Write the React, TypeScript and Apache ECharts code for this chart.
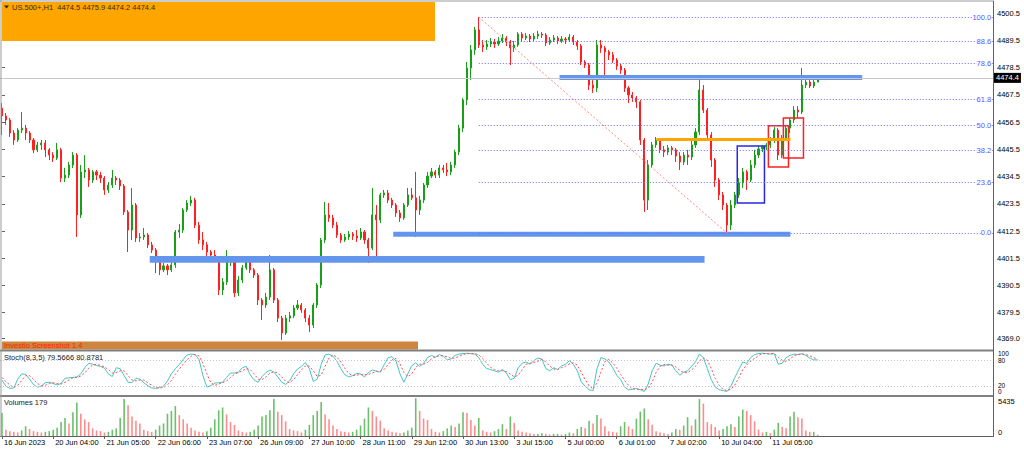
import React, { useEffect, useRef } from "react";
import * as echarts from "echarts";

const FONT = "Liberation Sans";
const FS = 7.5;

const timeLabels = ["16 Jun 2023", "20 Jun 04:00", "21 Jun 05:00", "22 Jun 06:00", "23 Jun 07:00", "26 Jun 09:00", "27 Jun 10:00", "28 Jun 11:00", "29 Jun 12:00", "30 Jun 13:00", "3 Jul 15:00", "5 Jul 00:00", "6 Jul 01:00", "7 Jul 02:00", "10 Jul 04:00", "11 Jul 05:00"];
const LABEL_STEP = 13;
const SLOT_COUNT = 252;

const priceTicks = [4500.5, 4489.5, 4478.5, 4467.5, 4456.5, 4445.5, 4434.5, 4423.5, 4412.5, 4401.5, 4390.5, 4379.5, 4369.0];
const PRICE_MIN = 4364.81;
const PRICE_MAX = 4505.07;

const opens = [
  4462.2, 4459.0, 4457.4, 4452.1, 4449.3, 4453.3, 4454.1, 4452.1, 4449.3, 4445.3,
  4447.3, 4448.1, 4445.3, 4443.2, 4442.0, 4445.3, 4433.9, 4435.1, 4439.2, 4443.2,
  4419.0, 4436.4, 4437.2, 4433.1, 4436.4, 4435.1, 4433.9, 4429.1, 4431.1, 4433.9,
  4433.1, 4430.7, 4420.2, 4412.9, 4423.0, 4409.7, 4410.1, 4410.9, 4406.9, 4404.8,
  4400.0, 4396.8, 4398.4, 4396.8, 4398.8, 4412.1, 4412.9, 4421.0, 4423.8, 4425.0,
  4414.9, 4408.9, 4406.9, 4404.0, 4402.8, 4401.6, 4388.7, 4391.9, 4400.0, 4400.8,
  4387.5, 4392.7, 4397.6, 4400.0, 4396.8, 4394.7, 4384.6, 4382.6, 4385.8, 4396.8,
  4384.6, 4377.3, 4371.3, 4377.3, 4378.2, 4381.4, 4382.6, 4380.6, 4377.3, 4374.5,
  4382.6, 4390.7, 4408.9, 4419.0, 4417.8, 4414.9, 4410.9, 4408.9, 4410.1, 4411.3,
  4410.5, 4409.7, 4412.1, 4408.9, 4405.6, 4419.0, 4417.0, 4427.1, 4427.9, 4425.0,
  4423.0, 4419.8, 4417.8, 4423.0, 4427.1, 4425.9, 4421.0, 4425.0, 4431.1, 4434.7,
  4436.4, 4435.1, 4438.0, 4437.2, 4436.4, 4439.2, 4444.4, 4454.1, 4465.5, 4478.4,
  4485.7, 4493.8, 4487.7, 4486.9, 4488.1, 4488.9, 4488.1, 4489.3, 4490.5, 4488.9,
  4486.5, 4487.7, 4492.1, 4490.5, 4491.3, 4490.1, 4491.3, 4492.1, 4491.7, 4488.5,
  4489.7, 4490.5, 4489.3, 4490.1, 4489.7, 4490.9, 4488.9, 4487.3, 4480.8, 4479.6,
  4471.5, 4470.3, 4487.7, 4486.5, 4484.9, 4483.7, 4481.6, 4479.2, 4477.6, 4470.3,
  4467.5, 4466.3, 4464.7, 4449.3, 4425.0, 4439.2, 4447.3, 4449.3, 4445.3, 4444.4,
  4446.1, 4445.3, 4442.8, 4440.4, 4443.2, 4442.4, 4447.3, 4452.5, 4469.5, 4461.4,
  4451.3, 4441.2, 4433.1, 4427.1, 4423.0, 4414.9, 4423.0, 4427.1, 4431.9, 4436.4,
  4433.1, 4439.2, 4443.2, 4445.7, 4446.5, 4447.3, 4449.3, 4453.3, 4443.2, 4450.1,
  4454.1, 4457.4, 4461.4, 4460.6, 4471.5, 4472.7, 4471.1, 4472.7,
];
const closes = [
  4459.0, 4457.4, 4452.1, 4449.3, 4453.3, 4454.1, 4452.1, 4449.3, 4445.3, 4447.3,
  4448.1, 4445.3, 4443.2, 4442.0, 4445.3, 4433.9, 4435.1, 4439.2, 4443.2, 4419.0,
  4436.4, 4437.2, 4433.1, 4436.4, 4435.1, 4433.9, 4429.1, 4431.1, 4433.9, 4433.1,
  4430.7, 4420.2, 4412.9, 4423.0, 4409.7, 4410.1, 4410.9, 4406.9, 4404.8, 4400.0,
  4396.8, 4398.4, 4396.8, 4398.8, 4412.1, 4412.9, 4421.0, 4423.8, 4425.0, 4414.9,
  4408.9, 4406.9, 4404.0, 4402.8, 4401.6, 4388.7, 4391.9, 4400.0, 4400.8, 4387.5,
  4392.7, 4397.6, 4400.0, 4396.8, 4394.7, 4384.6, 4382.6, 4385.8, 4396.8, 4384.6,
  4377.3, 4371.3, 4377.3, 4378.2, 4381.4, 4382.6, 4380.6, 4377.3, 4374.5, 4382.6,
  4390.7, 4408.9, 4419.0, 4417.8, 4414.9, 4410.9, 4408.9, 4410.1, 4411.3, 4410.5,
  4409.7, 4412.1, 4408.9, 4405.6, 4419.0, 4417.0, 4427.1, 4427.9, 4425.0, 4423.0,
  4419.8, 4417.8, 4423.0, 4427.1, 4425.9, 4421.0, 4425.0, 4431.1, 4434.7, 4436.4,
  4435.1, 4438.0, 4437.2, 4436.4, 4439.2, 4444.4, 4454.1, 4465.5, 4478.4, 4485.7,
  4493.8, 4487.7, 4486.9, 4488.1, 4488.9, 4488.1, 4489.3, 4490.5, 4488.9, 4486.5,
  4487.7, 4492.1, 4490.5, 4491.3, 4490.1, 4491.3, 4492.1, 4491.7, 4488.5, 4489.7,
  4490.5, 4489.3, 4490.1, 4489.7, 4490.9, 4488.9, 4487.3, 4480.8, 4479.6, 4471.5,
  4470.3, 4487.7, 4486.5, 4484.9, 4483.7, 4481.6, 4479.2, 4477.6, 4470.3, 4467.5,
  4466.3, 4464.7, 4449.3, 4425.0, 4439.2, 4447.3, 4449.3, 4445.3, 4444.4, 4446.1,
  4445.3, 4442.8, 4440.4, 4443.2, 4442.4, 4447.3, 4452.5, 4469.5, 4461.4, 4451.3,
  4441.2, 4433.1, 4427.1, 4423.0, 4414.9, 4423.0, 4427.1, 4431.9, 4436.4, 4433.1,
  4439.2, 4443.2, 4445.7, 4446.5, 4447.3, 4449.3, 4453.3, 4443.2, 4450.1, 4454.1,
  4457.4, 4461.4, 4460.6, 4471.5, 4472.7, 4471.1, 4472.7, 4474.4,
];
const lows = [
  4451.3, 4455.4, 4450.5, 4447.3, 4448.5, 4452.1, 4449.3, 4448.1, 4444.0, 4444.4,
  4445.3, 4442.4, 4441.2, 4440.4, 4441.2, 4432.3, 4432.3, 4433.9, 4438.0, 4410.1,
  4417.8, 4433.9, 4430.3, 4431.9, 4433.1, 4431.9, 4427.1, 4427.9, 4429.9, 4431.1,
  4429.1, 4419.0, 4404.0, 4408.9, 4408.1, 4408.1, 4408.9, 4405.6, 4403.6, 4395.5,
  4394.7, 4395.9, 4394.7, 4395.9, 4397.6, 4409.7, 4411.7, 4420.2, 4422.6, 4413.7,
  4407.3, 4404.8, 4402.4, 4400.8, 4400.0, 4386.6, 4386.6, 4390.7, 4398.4, 4385.8,
  4386.2, 4391.5, 4396.8, 4395.5, 4393.5, 4382.6, 4376.5, 4381.4, 4384.6, 4383.4,
  4375.7, 4368.5, 4370.5, 4375.7, 4377.3, 4380.6, 4379.4, 4375.7, 4371.7, 4373.3,
  4381.4, 4389.5, 4407.7, 4416.2, 4413.7, 4409.7, 4407.7, 4408.1, 4408.9, 4408.9,
  4408.1, 4408.9, 4407.3, 4399.6, 4404.8, 4401.6, 4415.7, 4425.9, 4423.8, 4421.8,
  4418.2, 4416.2, 4417.0, 4422.2, 4425.0, 4410.1, 4419.0, 4423.8, 4429.9, 4433.9,
  4433.9, 4433.9, 4436.0, 4434.7, 4435.1, 4438.0, 4443.2, 4452.5, 4463.4, 4473.5,
  4483.7, 4486.5, 4484.9, 4485.7, 4486.9, 4486.5, 4487.3, 4488.5, 4487.3, 4479.6,
  4484.9, 4486.9, 4488.9, 4489.7, 4488.9, 4489.3, 4490.1, 4490.5, 4487.3, 4487.7,
  4488.9, 4488.1, 4488.5, 4488.1, 4488.9, 4487.7, 4485.7, 4479.6, 4478.4, 4469.5,
  4468.3, 4468.7, 4484.5, 4474.8, 4481.6, 4480.4, 4477.6, 4476.0, 4468.7, 4464.2,
  4464.7, 4462.2, 4447.3, 4420.2, 4421.0, 4438.0, 4446.1, 4444.0, 4442.4, 4443.2,
  4443.2, 4440.4, 4437.2, 4439.2, 4439.2, 4441.2, 4446.1, 4451.3, 4460.2, 4449.3,
  4438.4, 4430.3, 4425.0, 4421.0, 4411.7, 4412.9, 4421.8, 4425.9, 4429.9, 4429.1,
  4432.3, 4438.0, 4442.0, 4444.4, 4445.3, 4446.1, 4448.1, 4441.2, 4442.0, 4449.3,
  4452.1, 4456.2, 4458.2, 4459.8, 4470.3, 4470.3, 4470.3, 4472.7,
];
const highs = [
  4464.2, 4460.2, 4458.2, 4453.3, 4454.1, 4460.6, 4455.4, 4452.9, 4450.1, 4448.5,
  4449.3, 4449.3, 4446.1, 4444.4, 4448.1, 4446.1, 4438.0, 4440.4, 4444.4, 4444.0,
  4439.2, 4443.2, 4438.0, 4437.2, 4437.2, 4436.4, 4434.7, 4432.3, 4437.2, 4434.7,
  4433.9, 4431.5, 4421.0, 4429.9, 4423.8, 4411.7, 4413.7, 4411.7, 4408.1, 4405.6,
  4400.8, 4399.6, 4399.2, 4400.0, 4412.9, 4415.3, 4421.8, 4425.0, 4426.7, 4425.9,
  4416.2, 4412.1, 4408.1, 4404.8, 4404.8, 4402.4, 4393.5, 4404.8, 4402.4, 4401.6,
  4394.3, 4398.8, 4401.6, 4400.8, 4397.6, 4395.5, 4385.4, 4387.5, 4402.8, 4397.6,
  4385.4, 4378.2, 4378.6, 4379.8, 4382.6, 4384.6, 4383.4, 4381.4, 4378.6, 4383.4,
  4391.5, 4409.7, 4424.2, 4423.8, 4419.0, 4416.2, 4411.7, 4411.3, 4412.5, 4412.1,
  4412.9, 4413.7, 4412.9, 4409.7, 4429.9, 4423.0, 4427.9, 4429.1, 4429.1, 4425.9,
  4423.8, 4421.0, 4423.8, 4429.9, 4429.9, 4436.4, 4426.7, 4431.9, 4436.4, 4438.0,
  4437.2, 4439.2, 4439.2, 4440.0, 4440.4, 4445.3, 4455.4, 4466.3, 4480.8, 4487.7,
  4495.0, 4499.0, 4489.7, 4489.7, 4490.5, 4490.1, 4490.9, 4492.1, 4491.3, 4489.7,
  4489.3, 4492.9, 4492.9, 4492.5, 4492.1, 4492.5, 4493.4, 4492.9, 4492.5, 4490.9,
  4491.7, 4491.3, 4491.3, 4490.9, 4492.1, 4491.7, 4489.7, 4488.1, 4481.6, 4480.4,
  4473.5, 4489.7, 4489.7, 4487.3, 4485.7, 4484.9, 4482.4, 4480.0, 4478.4, 4471.1,
  4468.7, 4467.1, 4465.5, 4450.1, 4441.2, 4448.5, 4450.5, 4450.1, 4446.9, 4447.3,
  4446.9, 4446.1, 4444.4, 4444.4, 4445.3, 4449.3, 4454.1, 4475.6, 4471.5, 4462.2,
  4452.5, 4442.0, 4433.9, 4428.3, 4423.8, 4425.0, 4428.3, 4433.9, 4438.0, 4437.2,
  4441.2, 4445.3, 4446.9, 4447.3, 4448.1, 4450.5, 4454.5, 4454.1, 4451.3, 4455.4,
  4458.2, 4463.0, 4463.0, 4478.4, 4475.2, 4473.5, 4474.4, 4475.2,
];

const stochK = [
  34, 20, 15, 16, 36, 48, 47, 36, 24, 18,
  20, 28, 29, 26, 23, 26, 38, 39, 40, 41,
  48, 62, 72, 70, 67, 65, 61, 48, 42, 62,
  60, 44, 29, 28, 38, 36, 28, 21, 16, 15,
  17, 20, 32, 48, 60, 69, 81, 91, 93, 92,
  81, 44, 18, 21, 27, 28, 29, 40, 50, 50,
  52, 62, 65, 46, 34, 29, 42, 51, 57, 52,
  41, 29, 24, 32, 48, 59, 65, 74, 60, 31,
  36, 69, 91, 93, 88, 77, 60, 46, 41, 44,
  49, 48, 41, 51, 57, 54, 52, 69, 85, 87,
  77, 48, 29, 48, 67, 73, 65, 72, 85, 90,
  86, 92, 88, 80, 82, 90, 93, 94, 95, 94,
  93, 85, 70, 60, 58, 55, 52, 58, 50, 35,
  38, 62, 72, 75, 70, 78, 84, 82, 60, 55,
  62, 58, 66, 70, 78, 70, 55, 30, 20, 12,
  10, 60, 85, 82, 75, 62, 45, 35, 18, 12,
  13, 15, 12, 8, 25, 55, 72, 68, 66, 70,
  68, 55, 45, 52, 55, 65, 75, 93, 85, 60,
  35, 18, 12, 10, 8, 20, 40, 58, 75, 72,
  85, 92, 94, 95, 94, 93, 94, 70, 72, 85,
  90, 93, 92, 94, 90, 84, 80, 79.57,
];
const stochD = [
  40, 30, 23, 17, 22, 33, 44, 44, 36, 26,
  21, 22, 26, 28, 26, 25, 29, 34, 39, 40,
  43, 50, 61, 68, 70, 67, 64, 58, 50, 51,
  55, 55, 44, 34, 32, 34, 34, 28, 22, 17,
  16, 17, 23, 33, 47, 59, 70, 80, 88, 92,
  89, 72, 48, 28, 22, 25, 28, 32, 40, 47,
  51, 55, 60, 58, 48, 36, 35, 41, 50, 53,
  50, 41, 31, 28, 35, 46, 57, 66, 66, 55,
  42, 45, 65, 84, 91, 86, 75, 61, 49, 44,
  45, 47, 46, 47, 50, 54, 54, 58, 69, 80,
  83, 71, 51, 42, 48, 63, 70, 70, 74, 82,
  87, 89, 89, 87, 83, 84, 88, 92, 94, 94,
  94, 91, 83, 72, 63, 58, 55, 55, 53, 48,
  41, 45, 57, 70, 72, 74, 77, 81, 75, 66,
  59, 58, 62, 65, 71, 73, 68, 52, 35, 21,
  14, 27, 52, 76, 81, 73, 61, 47, 33, 22,
  14, 13, 13, 12, 15, 29, 51, 65, 69, 68,
  68, 64, 56, 51, 51, 57, 65, 78, 84, 79,
  60, 38, 22, 13, 10, 13, 23, 39, 58, 68,
  77, 83, 90, 94, 94, 94, 94, 86, 79, 76,
  82, 89, 92, 93, 92, 89, 85, 80.88,
];

const volumes = [
  3300, 900, 700, 600, 500, 800, 1400, 1000, 700, 600,
  500, 600, 700, 900, 1200, 2000, 2600, 1800, 3400, 4800,
  3200, 2400, 2000, 1100, 800, 700, 500, 600, 900, 1100,
  2600, 5300, 4400, 2800, 2200, 1800, 900, 700, 600, 900,
  1500, 1800, 3200, 3600, 4300, 3000, 2400, 1800, 1200, 800,
  600, 500, 700, 1200, 2400, 3700, 4100, 3100, 2000, 1600,
  800, 600, 500, 600, 900, 1500, 2800, 3000, 3700, 5300,
  3500, 3000, 2100, 1000, 800, 700, 500, 900, 1600, 3000,
  3600, 4900, 3100, 2400, 1500, 1000, 700, 600, 500, 600,
  900, 1500, 2500, 4100, 3600, 2800, 2200, 1100, 800, 600,
  500, 400, 500, 800, 1200, 5435, 3600, 2500, 2300, 1000,
  600, 500, 700, 1100, 1500, 1300, 1800, 3400, 3300, 2300,
  1500, 2600, 800, 600, 500, 700, 1000, 1700, 1000, 2800,
  1900, 800, 600, 500, 400, 300, 300, 400, 300, 200,
  300, 300, 200, 300, 500, 400, 1000, 1300, 1100, 2200,
  1800, 3000, 2500, 1400, 700, 600, 500, 1400, 2000, 1400,
  1000, 2500, 3500, 3950, 2400, 1600, 700, 500, 400, 300,
  500, 1000, 900, 1500, 2700, 1500, 2400, 5300, 4650, 2000,
  1700, 1300, 800, 1000, 1400, 1700, 1300, 2800, 3800, 3600,
  3000, 2100, 900, 500, 600, 400, 900, 1900, 1300, 1100,
  2800, 3480, 2700, 2500, 800, 600, 600, 179,
];

// Fibonacci tool anchored at the swing high / swing low (slot index, price)
const fibRatios = [0, 23.6, 38.2, 50.0, 61.8, 78.6, 88.6, 100.0];
const fibHigh = { slot: 121, price: 4499.0 };
const fibLow = { slot: 184, price: 4411.7 };

// Drawn objects: [slotStart, priceTop, slotEnd, priceBottom]
const bands = [
  [141.5, 4475.6, 218.3, 4473.5],
  [99.3, 4412.2, 200.1, 4410.2],
  [37.5, 4402.4, 178.3, 4399.7],
];
const blueBoxes = [[186.6, 4446.9, 193.5, 4423.8]];
const redBoxes = [
  [194.5, 4455.0, 199.6, 4438.4],
  [198.3, 4458.2, 203.4, 4442.0],
];
const orangeLine = [166.1, 200.1, 4449.7];
const lastPrice = 4474.4;
const headerText = "US.500+,H1  4474.5 4475.9 4474.2 4474.4";
const stochText = "Stoch(8,3,5) 79.5666 80.8781";
const volumeText = "Volumes 179";
const volumeMaxLabel = "5435";

function buildOption() {
  const categories = Array.from({ length: SLOT_COUNT }, (_, i) => String(i));
  const labelAt = (i: number) =>
    i % LABEL_STEP === 0 && i / LABEL_STEP < timeLabels.length ? timeLabels[i / LABEL_STEP] : "";
  const showLabel = (i: number) => labelAt(i) !== "";

  const candleData = opens.map((o, i) => [o, closes[i], lows[i], highs[i]]);
  const volData = volumes.map((v, i) => ({
    value: v,
    itemStyle: { color: i > 0 && v < volumes[i - 1] ? "#ff8c8c" : "#6cc06c" },
  }));

  const fibLevels = fibRatios.map((r) => ({
    r,
    p: fibLow.price + (r / 100) * (fibHigh.price - fibLow.price),
  }));
  const RIGHT = SLOT_COUNT - 0.5;

  const fibStyle = { color: "#6a6aff", width: 1, type: [1, 2] as any };

  const markAreaData: any[] = [];
  bands.forEach((b) =>
    markAreaData.push([
      { coord: [b[0], b[1]], itemStyle: { color: "#6495ed", borderWidth: 0 } },
      { coord: [b[2], b[3]] },
    ])
  );
  blueBoxes.forEach((b) =>
    markAreaData.push([
      { coord: [b[0], b[1]], itemStyle: { color: "rgba(0,0,0,0)", borderColor: "#2626e6", borderWidth: 1.5 } },
      { coord: [b[2], b[3]] },
    ])
  );
  redBoxes.forEach((b) =>
    markAreaData.push([
      { coord: [b[0], b[1]], itemStyle: { color: "rgba(0,0,0,0)", borderColor: "#ff2020", borderWidth: 1.5 } },
      { coord: [b[2], b[3]] },
    ])
  );

  const markLineData: any[] = [
    {
      yAxis: lastPrice,
      lineStyle: { color: "#c8c8c8", width: 1, type: "solid" },
      label: {
        show: true,
        position: "end",
        distance: 1,
        formatter: lastPrice.toFixed(1),
        backgroundColor: "#000",
        color: "#fff",
        padding: [1, 2, 1, 2],
        fontSize: FS,
        fontFamily: FONT,
      },
    },
    ...fibLevels.map((f) => [
      { coord: [fibHigh.slot, f.p], lineStyle: fibStyle },
      { coord: [RIGHT, f.p] },
    ]),
    [
      { coord: [fibHigh.slot, fibHigh.price], lineStyle: { color: "#ff8a8a", width: 1, type: [2, 2] } },
      { coord: [fibLow.slot, fibLow.price] },
    ],
    [
      { coord: [orangeLine[0], orangeLine[2]], lineStyle: { color: "#ffa500", width: 3, type: "solid" } },
      { coord: [orangeLine[1], orangeLine[2]] },
    ],
  ];

  const markPointData = fibLevels.map((f) => ({
    coord: [RIGHT - 0.2, f.p],
    symbol: "circle",
    symbolSize: 0,
    label: {
      show: true,
      position: "left",
      distance: 1,
      formatter: f.r.toFixed(1),
      color: "#5555ff",
      fontSize: FS,
      fontFamily: FONT,
      backgroundColor: "#ffffff",
    },
  }));

  const hiddenCat = (gridIndex: number) => ({
    type: "category",
    gridIndex,
    data: categories,
    boundaryGap: true,
    axisLine: { show: false },
    axisTick: { show: false },
    axisLabel: { show: false },
    splitLine: { show: false },
  });

  const gridL = -1;
  const gridW = 994;
  const SFS = 6.5;

  const graphics: any[] = [
    { type: "rect", shape: { x: 2, y: 2, width: 433, height: 39 }, style: { fill: "#ffa500" }, z: 10 },
    { type: "polygon", shape: { points: [[4, 5.5], [9, 5.5], [6.5, 8.5]] }, style: { fill: "#222" }, z: 11 },
    { type: "text", x: 12, y: 7, style: { text: headerText, fill: "#3b2b00", fontSize: FS, fontFamily: FONT, verticalAlign: "middle" }, z: 11 },
    { type: "rect", shape: { x: 2, y: 341.5, width: 416, height: 8 }, style: { fill: "#cd853f" }, z: 10 },
    { type: "text", x: 4, y: 345.5, style: { text: "Investio Screenshot 1.4", fill: "#ff2200", fontSize: FS, fontFamily: FONT, verticalAlign: "middle" }, z: 11 },
    { type: "text", x: 4, y: 357, style: { text: stochText, fill: "#222", fontSize: FS, fontFamily: FONT, verticalAlign: "middle" }, z: 11 },
    { type: "text", x: 4, y: 402, style: { text: volumeText, fill: "#222", fontSize: FS, fontFamily: FONT, verticalAlign: "middle" }, z: 11 },
    // pane separators and frame
    { type: "line", shape: { x1: 0, y1: 350.5, x2: 994, y2: 350.5 }, style: { stroke: "#808080", lineWidth: 2 }, z: 12 },
    { type: "line", shape: { x1: 0, y1: 396, x2: 994, y2: 396 }, style: { stroke: "#808080", lineWidth: 2 }, z: 12 },
    { type: "line", shape: { x1: 0, y1: 1, x2: 994, y2: 1 }, style: { stroke: "#9a9a9a", lineWidth: 1 }, z: 12 },
    { type: "line", shape: { x1: 1, y1: 0, x2: 1, y2: 437 }, style: { stroke: "#9a9a9a", lineWidth: 1 }, z: 12 },
    { type: "line", shape: { x1: 993.5, y1: 1, x2: 993.5, y2: 437 }, style: { stroke: "#606060", lineWidth: 1 }, z: 12 },
    // stochastic scale
    { type: "text", x: 998, y: 353.5, style: { text: "100", fill: "#000", fontSize: SFS, fontFamily: FONT, verticalAlign: "middle" } },
    { type: "text", x: 998, y: 360.3, style: { text: "80", fill: "#000", fontSize: SFS, fontFamily: FONT, verticalAlign: "middle" } },
    { type: "text", x: 998, y: 385, style: { text: "20", fill: "#000", fontSize: SFS, fontFamily: FONT, verticalAlign: "middle" } },
    { type: "text", x: 998, y: 391.8, style: { text: "0", fill: "#000", fontSize: SFS, fontFamily: FONT, verticalAlign: "middle" } },
    // volume scale
    { type: "text", x: 998, y: 401, style: { text: volumeMaxLabel, fill: "#000", fontSize: FS, fontFamily: FONT, verticalAlign: "middle" } },
    { type: "text", x: 998, y: 432, style: { text: "0", fill: "#000", fontSize: FS, fontFamily: FONT, verticalAlign: "middle" } },
  ];

  return {
    animation: false,
    backgroundColor: "#ffffff",
    textStyle: { fontFamily: FONT },
    grid: [
      { left: gridL, top: 2, width: gridW, height: 347, containLabel: false },
      { left: gridL, top: 351, width: gridW, height: 44, containLabel: false },
      { left: gridL, top: 397, width: gridW, height: 39, containLabel: false },
    ],
    xAxis: [
      hiddenCat(0),
      {
        type: "value",
        gridIndex: 0,
        min: -0.5,
        max: SLOT_COUNT - 0.5,
        show: false,
        splitLine: { show: false },
      },
      hiddenCat(1),
      {
        type: "category",
        gridIndex: 2,
        data: categories,
        boundaryGap: true,
        axisLine: { show: true, lineStyle: { color: "#606060", width: 1 } },
        axisTick: { show: true, alignWithLabel: true, interval: (i: number) => showLabel(i), length: 3, lineStyle: { color: "#606060" } },
        axisLabel: {
          show: true,
          interval: (i: number) => showLabel(i),
          formatter: (_v: string, i: number) => labelAt(i),
          align: "left",
          padding: [0, 0, 0, 2],
          margin: 2,
          fontSize: FS,
          color: "#000",
          fontFamily: FONT,
          showMinLabel: true,
          showMaxLabel: true,
          hideOverlap: false,
        },
        splitLine: { show: false },
      },
    ],
    yAxis: [
      {
        type: "value",
        gridIndex: 0,
        position: "right",
        min: PRICE_MIN,
        max: PRICE_MAX,
        scale: true,
        splitLine: { show: false },
        axisLine: { show: false },
        axisTick: { show: true, customValues: priceTicks, length: 3, lineStyle: { color: "#606060" } },
        axisLabel: {
          show: true,
          customValues: priceTicks,
          formatter: (v: number) => v.toFixed(1),
          fontSize: FS,
          color: "#000",
          margin: 4,
          fontFamily: FONT,
        },
      },
      { type: "value", gridIndex: 1, min: 0, max: 100, show: false, splitLine: { show: false } },
      { type: "value", gridIndex: 2, min: 0, max: 5600, show: false, splitLine: { show: false } },
    ],
    series: [
      {
        type: "candlestick",
        xAxisIndex: 0,
        yAxisIndex: 0,
        data: candleData,
        barWidth: 1.6,
        z: 2,
        itemStyle: {
          color: "#17a017",
          color0: "#ff2020",
          borderColor: "#17a017",
          borderColor0: "#ff2020",
          borderWidth: 1,
        },
      },
      {
        type: "line",
        xAxisIndex: 1,
        yAxisIndex: 0,
        data: [],
        z: 5,
        silent: true,
        markArea: { silent: true, z: 5, data: markAreaData },
        markLine: { silent: true, z: 6, symbol: ["none", "none"], label: { show: false }, data: markLineData },
        markPoint: { silent: true, z: 7, data: markPointData },
      },
      {
        type: "line",
        xAxisIndex: 2,
        yAxisIndex: 1,
        data: stochK,
        symbol: "none",
        lineStyle: { color: "#45c4c4", width: 1 },
        z: 3,
        markLine: {
          silent: true,
          symbol: ["none", "none"],
          label: { show: false },
          lineStyle: { color: "#c4c4c4", width: 1, type: [1, 2] },
          data: [{ yAxis: 80 }, { yAxis: 20 }],
        },
      },
      {
        type: "line",
        xAxisIndex: 2,
        yAxisIndex: 1,
        data: stochD,
        symbol: "none",
        lineStyle: { color: "#ff5050", width: 1, type: [2, 2] },
        z: 4,
      },
      {
        type: "bar",
        xAxisIndex: 3,
        yAxisIndex: 2,
        data: volData,
        barWidth: 1.6,
      },
    ],
    graphic: graphics,
  };
}

export default function App() {
  const ref = useRef<HTMLDivElement>(null);
  useEffect(() => {
    const el = ref.current;
    if (!el) return;
    const chart = echarts.init(el, null, { renderer: "svg" });
    chart.setOption(buildOption() as any);
    return () => {
      chart.dispose();
    };
  }, []);
  return (
    <div
      ref={ref}
      style={{ position: "fixed", left: 0, top: 0, width: 1024, height: 449, background: "#ffffff" }}
    />
  );
}
